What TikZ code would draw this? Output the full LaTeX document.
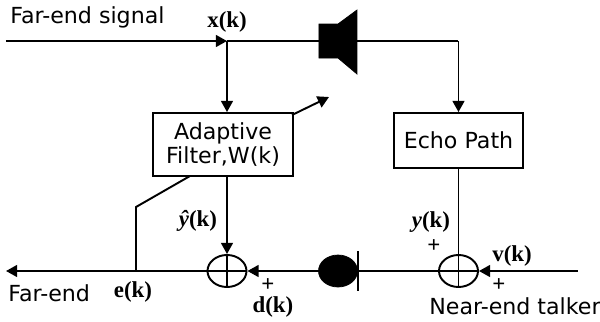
\documentclass[tikz,border=0pt]{standalone}
\usepackage{fontspec}
\setmainfont{DejaVu Sans}
\newfontfamily\labelfont{Liberation Serif}
\usetikzlibrary{arrows.meta,shapes.geometric}
\tikzset{
    sig/.style={line width=1.1pt},
    sigarrow/.style={sig,-{Triangle[length=6.4pt,width=6.8pt]}},
    block/.style={draw,line width=1.1pt,inner sep=0pt,align=center,font=\fontsize{12.6}{13.2}\selectfont},
    sumnode/.style={draw,ellipse,line width=1.1pt,inner sep=0pt,minimum width=0.78cm,minimum height=0.64cm},
    caption/.style={inner sep=0pt,font=\fontsize{12.6}{14}\selectfont},
    siglabel/.style={inner sep=0pt,font=\labelfont\bfseries\fontsize{13}{15}\selectfont}
}
\begin{document}
\begin{tikzpicture}[x=0.02cm,y=-0.02cm]
        \useasboundingbox (0,0) rectangle (600,322);

        \node[block,minimum width=2.8cm,minimum height=1.26cm] (filter) at (223,144.5) {Adaptive\\Filter,W(k)};
        \node[block,minimum width=2.58cm,minimum height=1.1cm] (echo) at (458.5,140.5) {Echo Path};
        \node[sumnode] (suma) at (227,271) {};
        \node[sumnode] (sumb) at (458.5,271) {};
        \node[draw,fill=black,ellipse,inner sep=0pt,minimum width=0.78cm,minimum height=0.64cm] (mic) at (338,271) {};

        \coordinate (start) at (6,41);
        \coordinate (xk) at (227,41);
        \coordinate (spkin) at (320,41);
        \coordinate (spkout) at (357,41);
        \coordinate (bend) at (458.5,41);
        \coordinate (farout) at (6,271);
        \coordinate (nearin) at (578,271);
        \coordinate (tap) at (136,271);
        \coordinate (corner) at (136,207);
        \coordinate (filterout) at (190,176);
        \coordinate (filtertop) at (292,115);
        \coordinate (adapt) at (329,97);
        \coordinate (micbar) at (358,271);

        \draw[fill=black] (319,24) -- (338,24) -- (357,10) -- (357,74) -- (338,58) -- (319,58) -- cycle;
        \draw[sig] (358,251) -- (358,291);

        \draw[sigarrow] (start) -- (xk);
        \draw[sig] (xk) -- (spkin);
        \draw[sig] (spkout) -- (bend);
        \draw[sigarrow] (bend) -- (echo.north);
        \draw[sigarrow] (xk) -- (filter.north -| xk);
        \draw[sigarrow] (filtertop) -- (adapt);

        \draw[sigarrow] (suma |- filter.south) -- (suma.north);
        \draw[sig] (echo.south) -- (sumb.north);
        \draw[sigarrow] (nearin) -- (sumb.east);
        \draw[sig] (sumb.west) -- (micbar);
        \draw[sigarrow] (mic.west) -- (suma.east);
        \draw[sigarrow] (suma.west) -- (farout);
        \draw[sig] (tap) -- (corner) -- (filterout);

        \draw[sig] (suma.north) -- (suma.south);
        \draw[sig] (suma.west) -- (suma.east);
        \draw[sig] (sumb.north) -- (sumb.south);
        \draw[sig] (sumb.west) -- (sumb.east);

        \node[caption,anchor=west] (farin) at (10,17) {Far-end signal};
        \node[caption,anchor=west] (farend) at (8,293) {Far-end};
        \node[caption,anchor=west] (near) at (429,306) {Near-end talker};

        \node[siglabel] (xlabel) at (227,22) {x(k)};
        \node[siglabel] (yhat) at (198,221) {\textit{\^y}(k)};
        \node[siglabel] (ylabel) at (431,222) {\textit{y}(k)};
        \node[siglabel] (vlabel) at (512,256) {v(k)};
        \node[siglabel] (dlabel) at (273,307) {d(k)};
        \node[siglabel] (elabel) at (133,292) {e(k)};
        \node[siglabel] (plusd) at (268,285) {+};
        \node[siglabel] (plusy) at (434,246) {+};
        \node[siglabel] (plusv) at (499,285) {+};
    \end{tikzpicture}
\end{document}
